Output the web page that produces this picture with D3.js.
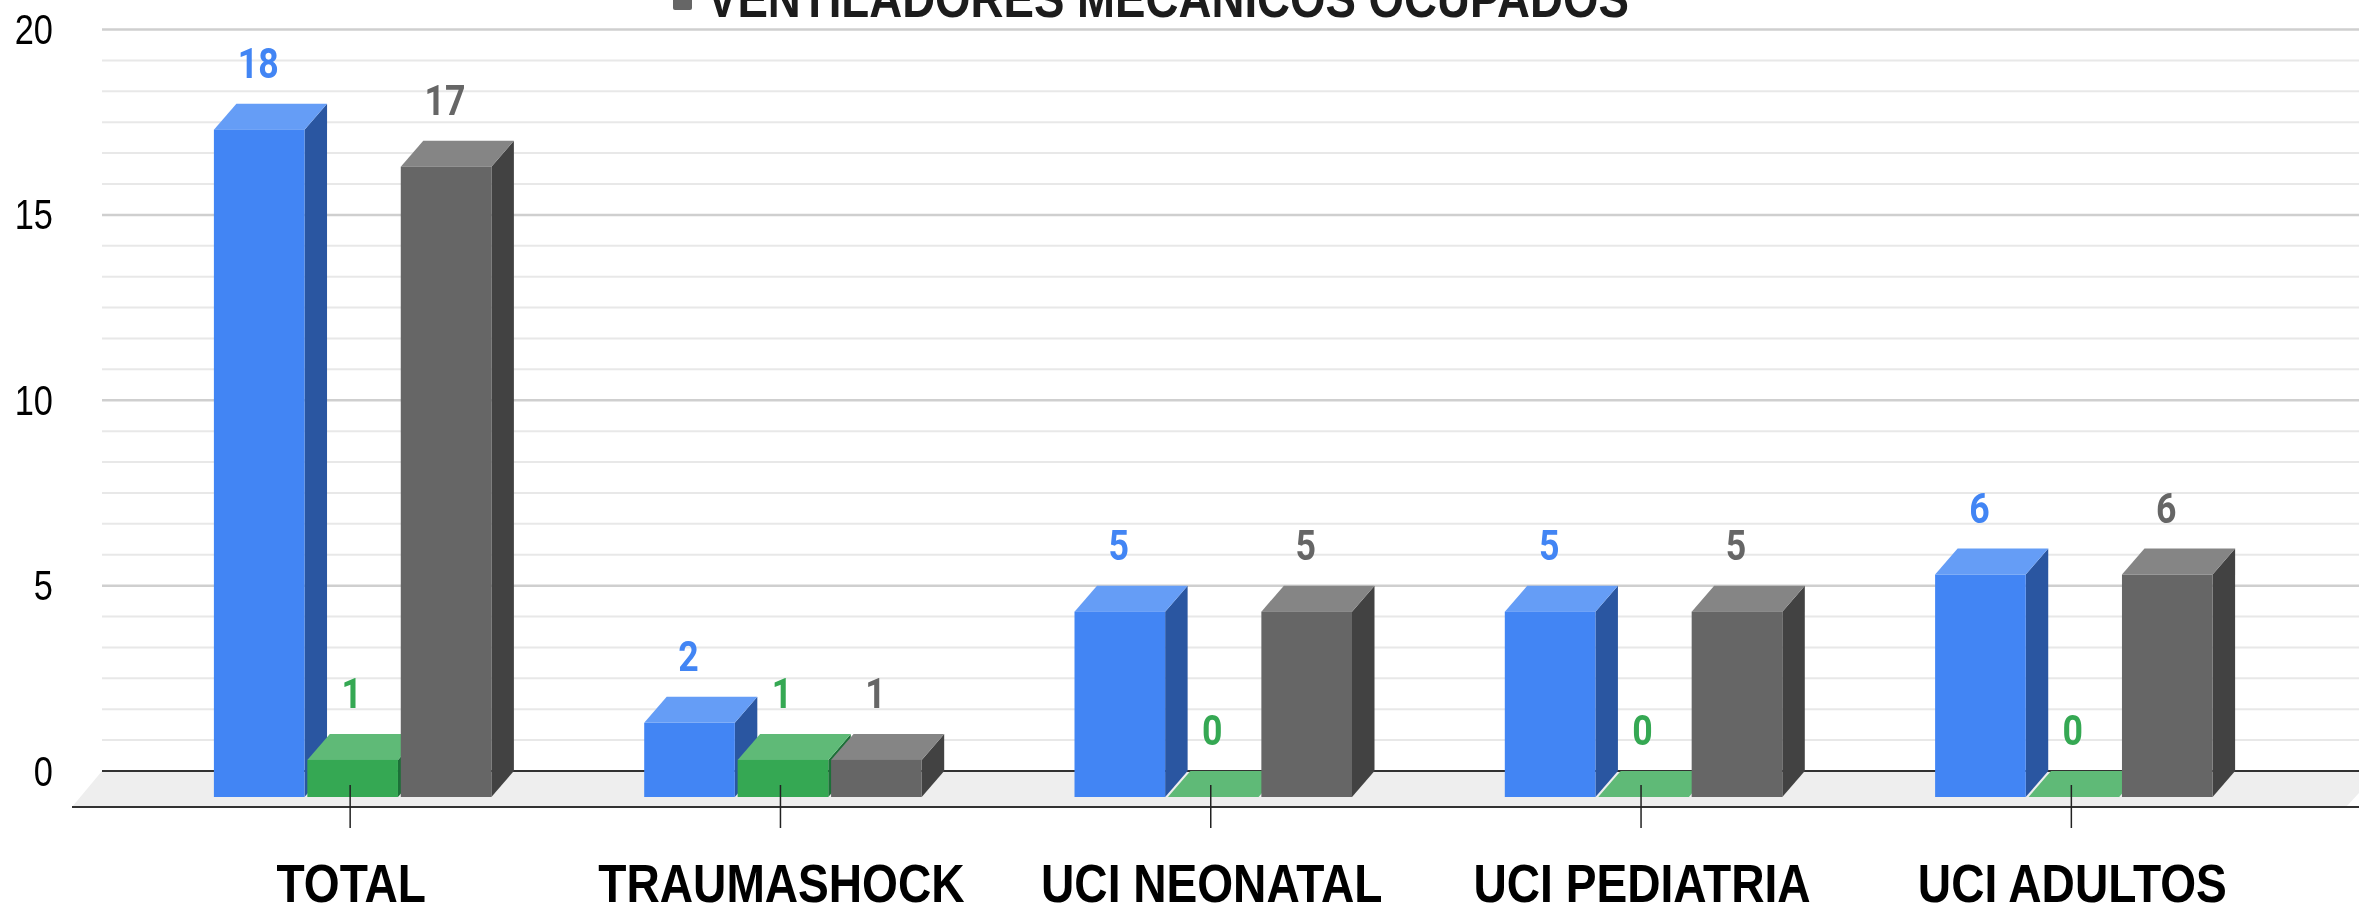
<!DOCTYPE html>
<html>
<head>
<meta charset="utf-8">
<script src="https://cdnjs.cloudflare.com/ajax/libs/d3/7.8.5/d3.min.js"></script>
<style>
html, body { margin: 0; padding: 0; background: #fff; overflow: hidden; }
svg { display: block; }
text { font-family: "Liberation Sans", Arial, sans-serif; }
</style>
</head>
<body>
<div class="canvas"></div>
<script>
const categories = ['TOTAL', 'TRAUMASHOCK', 'UCI NEONATAL', 'UCI PEDIATRIA', 'UCI ADULTOS']
const blueValues = [18, 2, 5, 5, 6]
const greenValues = [1, 1, 0, 0, 0]
const grayValues = [17, 1, 5, 5, 6]
const majorTicks = [0, 5, 10, 15, 20]
const legendLabel = 'VENTILADORES MECANICOS OCUPADOS'

const series = [
    { values: blueValues, front: '#4285f4', top: '#659df6', side: '#2b57a1' },
    { values: greenValues, front: '#34a853', top: '#5eba77', side: '#1f6f38' },
    { values: grayValues, front: '#666666', top: '#858585', side: '#434343' }
]

const width = 2359
const height = 906

// how far the 3d bars and the floor come forward from the back wall
const depthX = 22.5
const depthY = 26

const svg = d3.select('.canvas').append('svg').attr('width', width).attr('height', height)

// the reference is a soft upscaled picture
svg.append('filter').attr('id', 'soft')
    .attr('x', 0).attr('y', 0).attr('width', 1).attr('height', 1)
    .append('feGaussianBlur').attr('stdDeviation', 0.6)

const chart = svg.append('g').attr('filter', 'url(#soft)')
chart.append('rect').attr('width', width).attr('height', height).attr('fill', '#fff')

const y = d3.scaleLinear().domain([0, 20]).range([771, 29.5])

const x = d3.scaleBand().domain(categories).range([135, 2286.5])

const barX = d3.scaleBand().domain(d3.range(series.length)).range([0, 277.5]).paddingInner(0.03)
const barOffset = (x.bandwidth() - 277.5) / 2 + 2.5

// Gridlines, 6 intervals between labelled ticks
const minorTicks = d3.range(0, 24).map(i => i * 5 / 6).filter(d => !majorTicks.includes(d))

chart.append('g').selectAll('line').data(minorTicks).enter().append('line')
    .attr('x1', 102).attr('x2', width)
    .attr('y1', d => y(d)).attr('y2', d => y(d))
    .attr('stroke', '#e8e8e8').attr('stroke-width', 2)

chart.append('g').selectAll('line').data(majorTicks.filter(d => d > 0)).enter().append('line')
    .attr('x1', 102).attr('x2', width)
    .attr('y1', d => y(d)).attr('y2', d => y(d))
    .attr('stroke', '#cfcfcf').attr('stroke-width', 2.5)

// Floor
const floorY = y(0) + depthY + 10
chart.append('path')
    .attr('d', `M102,${y(0)} L${width},${y(0)} L${width},${floorY - 14} L2346,${floorY} L72,${floorY} Z`)
    .attr('fill', '#eeeeee')

chart.append('line').attr('x1', 102).attr('x2', width).attr('y1', y(0)).attr('y2', y(0))
    .attr('stroke', '#333').attr('stroke-width', 2)
chart.append('line').attr('x1', 72).attr('x2', width).attr('y1', floorY).attr('y2', floorY)
    .attr('stroke', '#333').attr('stroke-width', 2)

// Bars, later series sit on top of the earlier ones
const bars = chart.append('g')

categories.forEach((cat, c) => {
    series.forEach((s, i) => {
        const x0 = x(cat) + barOffset + barX(i)
        const x1 = x0 + barX.bandwidth()
        const top = y(s.values[c])
        const base = y(0)
        const g = bars.append('g')

        // side
        g.append('path')
            .attr('d', `M${x1},${top + depthY} L${x1 + depthX},${top} L${x1 + depthX},${base} L${x1},${base + depthY} Z`)
            .attr('fill', s.side)
        // top
        g.append('path')
            .attr('d', `M${x0},${top + depthY} L${x0 + depthX},${top} L${x1 + depthX},${top} L${x1},${top + depthY} Z`)
            .attr('fill', s.top)
        // front
        g.append('rect')
            .attr('x', x0).attr('y', top + depthY)
            .attr('width', x1 - x0).attr('height', base - top)
            .attr('fill', s.front)
    })
})

// Value labels
categories.forEach((cat, c) => {
    series.forEach((s, i) => {
        const cx = x(cat) + barOffset + barX(i) + barX.bandwidth() / 2
        chart.append('text')
            .attr('transform', `translate(${cx - 1},${y(s.values[c]) - 26}) scale(0.85,1)`)
            .attr('text-anchor', 'middle')
            .style('font-family', 'Roboto')
            .style('font-weight', 700)
            .style('font-size', '42px')
            .attr('fill', s.front)
            .text(s.values[c])
    })
})

// Axes
const xAxis = d3.axisBottom(x).tickSize(43).tickPadding(0)
const xAxisGroup = chart.append('g').attr('transform', 'translate(0,785)').call(xAxis)
xAxisGroup.select('.domain').remove()
xAxisGroup.selectAll('line').attr('stroke', '#222').attr('stroke-width', 1.5)
xAxisGroup.selectAll('text')
    .attr('y', null).attr('dy', null)
    .attr('transform', 'translate(1,117) scale(0.87,1)')
    .attr('fill', '#000')
    .style('font-size', '53px')
    .style('font-weight', 700)

const yAxis = d3.axisLeft(y).tickValues(majorTicks).tickSize(0).tickPadding(0)
const yAxisGroup = chart.append('g').attr('transform', 'translate(53,0)').call(yAxis)
yAxisGroup.select('.domain').remove()
yAxisGroup.selectAll('text')
    .attr('x', null).attr('dy', null)
    .attr('transform', 'translate(0,14) scale(0.8,1)')
    .attr('fill', '#000')
    .style('font-size', '43px')

// Legend is cut by the top edge
chart.append('rect').attr('x', 673).attr('y', -10).attr('width', 19).attr('height', 20).attr('rx', 2).attr('fill', '#666666')
chart.append('text')
    .attr('transform', 'translate(707,17) scale(0.845,1)')
    .attr('fill', '#1a1a1a')
    .style('font-size', '54px')
    .style('font-weight', 700)
    .text(legendLabel)
</script>
</body>
</html>
